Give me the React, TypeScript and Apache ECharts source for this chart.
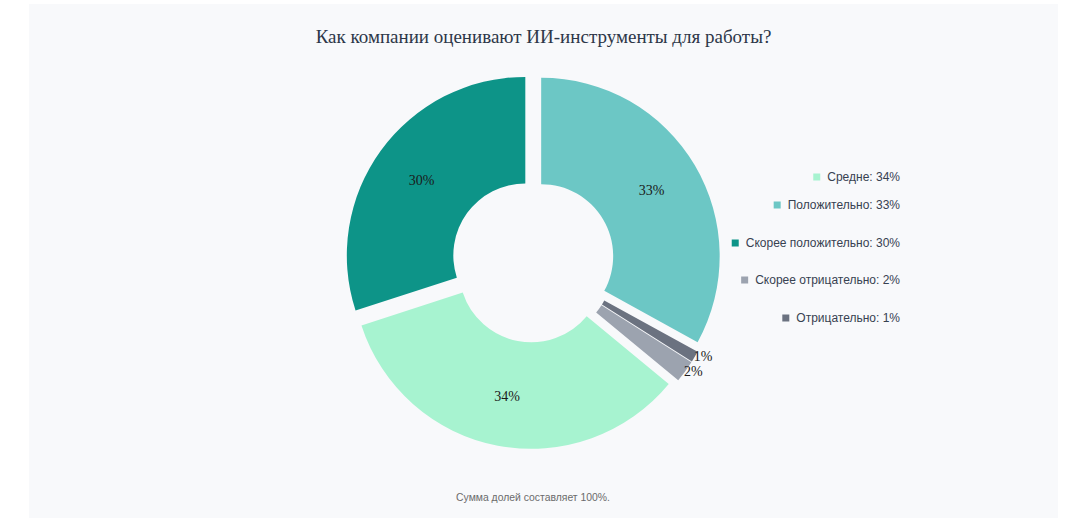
import React, { useEffect, useRef } from "react";
import * as echarts from "echarts";

const titleText = "Как компании оценивают ИИ-инструменты для работы?";
const footnote = "Сумма долей составляет 100%.";

// pie order (clockwise from top)
const sliceNames = ["Положительно", "Отрицательно", "Скорее отрицательно", "Средне", "Скорее положительно"];
const sliceValues = [33, 1, 2, 34, 30];
const sliceColors = ["#6cc7c5", "#6b7280", "#9ca3af", "#a7f3d0", "#0d9488"];
const outsideLabels = ["Отрицательно", "Скорее отрицательно"];

// legend order
const legendNames = ["Средне", "Положительно", "Скорее положительно", "Скорее отрицательно", "Отрицательно"];
const legendTops = [167, 195, 233, 270, 308];

export default function App() {
  const ref = useRef<HTMLDivElement>(null);
  useEffect(() => {
    if (!ref.current) return;
    const chart = echarts.init(ref.current, undefined, { renderer: "svg" });
    const valueOf = (n: string) => sliceValues[sliceNames.indexOf(n)];
    const data = sliceNames.map((n, i) => {
      const outside = outsideLabels.includes(n);
      return {
        name: n,
        value: sliceValues[i],
        selected: true,
        itemStyle: { color: sliceColors[i] },
        select: { itemStyle: { color: sliceColors[i], borderWidth: 0 } },
        label: outside
          ? { position: "outside", distanceToLabelLine: -1 }
          : { position: "inside" },
        labelLine: { show: false, length: 0, length2: 0 },
      };
    });
    chart.setOption({
      animation: false,
      backgroundColor: "#f8f9fb",
      title: {
        text: titleText,
        left: "center",
        top: 18,
        textStyle: {
          fontFamily: "Liberation Serif",
          fontSize: 19,
          fontWeight: "normal",
          color: "#2d3748",
        },
      },
      legend: legendNames.map((n, i) => ({
        data: [n],
        right: 158,
        top: legendTops[i],
        padding: 0,
        orient: "vertical",
        selectedMode: false,
        icon: "rect",
        itemWidth: 7,
        itemHeight: 7,
        formatter: (name: string) => `${name}: ${valueOf(name)}%`,
        textStyle: {
          fontFamily: "Liberation Sans",
          fontSize: 12,
          color: "#374151",
          padding: [0, 0, 0, 2],
        },
      })),
      graphic: [
        {
          type: "text",
          x: 533 - 29,
          y: 493,
          style: {
            text: footnote,
            fontFamily: "Liberation Sans",
            fontSize: 10.4,
            fill: "#6b6b6b",
            textAlign: "center",
            textVerticalAlign: "middle",
          },
        },
      ],
      series: [
        {
          type: "pie",
          center: [504, 257],
          radius: [72, 178.5],
          startAngle: 90,
          clockwise: true,
          selectedMode: "multiple",
          selectedOffset: 9.5,
          avoidLabelOverlap: false,
          emphasis: { disabled: true },
          label: {
            show: true,
            formatter: "{c}%",
            fontFamily: "Liberation Serif",
            fontSize: 14,
            color: "#1a1a1a",
          },
          data,
        },
      ],
    });
    return () => chart.dispose();
  }, []);
  return (
    <div
      ref={ref}
      style={{ position: "absolute", left: 29, top: 4, width: 1029, height: 514 }}
    />
  );
}
